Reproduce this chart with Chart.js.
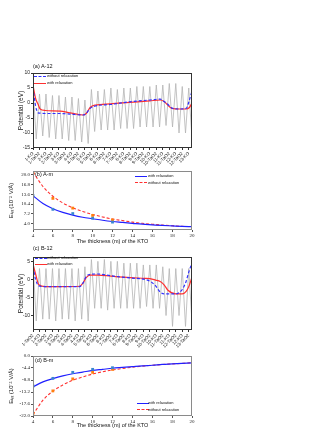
<!DOCTYPE html>
<html>
<head>
<meta charset="utf-8">
<script src="https://cdn.jsdelivr.net/npm/chart.js@4.4.0/dist/chart.umd.min.js"></script>
<style>
body { margin: 0; background: #fff; }
#wrap { position: relative; width: 332px; height: 430px; overflow: hidden; font-family: "Liberation Sans", Arial, sans-serif; }
canvas { position: absolute; left: 0; }
.lbl { position: absolute; white-space: nowrap; color: #111; }
.ttl { font-size: 5.5px; line-height: 6px; }
.leg { font-size: 4px; line-height: 4px; }
.ln { position: absolute; width: 12px; height: 0; }
</style>
</head>
<body>
<div id="wrap">
  <canvas id="ca" width="200" height="112" style="top:60px"></canvas>
  <canvas id="cb" width="200" height="80" style="top:166px"></canvas>
  <canvas id="cc" width="200" height="108" style="top:244px"></canvas>
  <canvas id="cd" width="200" height="80" style="top:350px"></canvas>

  <div class="lbl ttl" style="left:33px;top:63px">(a) A-12</div>
  <div class="ln" style="left:34px;top:76px;border-top:1.2px dashed #3030ff"></div>
  <div class="lbl leg" style="left:47px;top:74px">without relaxation</div>
  <div class="ln" style="left:34px;top:83px;border-top:1.2px solid #ff3030"></div>
  <div class="lbl leg" style="left:47px;top:81px">with relaxation</div>

  <div class="lbl ttl" style="left:35px;top:171px">(b) A-m</div>
  <div class="ln" style="left:135px;top:176px;border-top:1.2px solid #2020ff"></div>
  <div class="lbl leg" style="left:148px;top:174px">with relaxation</div>
  <div class="ln" style="left:135px;top:182px;border-top:1.2px dashed #ff3030"></div>
  <div class="lbl leg" style="left:148px;top:180.5px">without relaxation</div>

  <div class="lbl ttl" style="left:33px;top:245px">(c) B-12</div>
  <div class="ln" style="left:35px;top:258px;border-top:1.2px dashed #3030ff"></div>
  <div class="lbl leg" style="left:47px;top:256px">without relaxation</div>
  <div class="ln" style="left:35px;top:264px;border-top:1.2px solid #ff3030"></div>
  <div class="lbl leg" style="left:47px;top:262px">with relaxation</div>

  <div class="lbl ttl" style="left:35px;top:357px">(d) B-m</div>
  <div class="ln" style="left:137px;top:403px;border-top:1.2px solid #2020ff"></div>
  <div class="lbl leg" style="left:148px;top:401px">with relaxation</div>
  <div class="ln" style="left:137px;top:409px;border-top:1.2px dashed #ff3030"></div>
  <div class="lbl leg" style="left:148px;top:407.5px">without relaxation</div>
</div>
<script>
// layer names on the potential plots
var layersA = ["1-KO","1-TaO2","2-KO","2-TaO2","3-KO","3-TaO2","4-KO","4-TaO2","5-KO","5-TaO2",
  "6-KO","6-TaO2","7-KO","7-TaO2","8-KO","8-TaO2","9-KO","9-TaO2","10-KO","10-TaO2",
  "11-KO","11-TaO2","12-KO","12-TaO2","13-KO"];
var layersC = ["1-TaO2","1-KO","2-TaO2","2-KO","3-TaO2","3-KO","4-TaO2","4-KO","5-TaO2","5-KO",
  "6-TaO2","6-KO","7-TaO2","7-KO","8-TaO2","8-KO","9-TaO2","9-KO","10-TaO2","10-KO",
  "11-TaO2","11-KO","12-TaO2","12-KO","13-TaO2"];

// raw planar potential (peak, trough, peak, trough ...), half a layer apart
var grayA = [5,-12, 3,-11, 3,-11.5, 2.5,-12, 2.5,-12, 2,-12.5, 2,-12.5, 1.5,-13, 1,-13.5,
  4.5,-9.5, 4,-9, 4.5,-9, 5,-9, 4.5,-8.5, 5,-8.5, 5,-8.5, 5.5,-8, 5.5,-8, 5.5,-8, 6,-8,
  6,-7.5, 6.5,-8, 6.5,-10, 5.5,-10, 5,-12];
var grayC = [5,-11.5, 3,-11, 3,-11, 3,-11.5, 3,-11, 3,-11, 3,-11.5, 3,-11, 3.5,-11.5,
  5.5,-8, 5,-8, 5.5,-8.5, 5,-8, 5,-8, 4.5,-8, 4.5,-8, 4.5,-8, 4,-7.5, 4,-8, 4,-8,
  3.5,-10, 3,-13, 3,-10, 3,-13, 3,-12];

// macroscopic averages
var posA =     [0, 0.4, 0.8, 1.1, 1.9, 4.2, 5.7, 7.7, 8.2, 8.8, 9.6, 11.9, 14.9, 18.0, 19.6, 20.2, 20.8, 21.4, 22.6, 23.6, 24.1, 24.5];
var relaxA =   [6, 1.5, -0.5, -2, -2.5, -2.7, -3.3, -4, -3.5, -1.5, -0.7, -0.3, 0.2, 0.7, 1.0, 0.5, -0.8, -1.8, -2, -2, -1.5, 0];
var noRelaxA = [5, -1, -3.3, -3.4, -3.5, -3.5, -3.7, -4, -3.5, -1.8, -1, -0.5, 0.4, 1.0, 1.3, 0.5, -0.5, -1.7, -2, -1.8, 1, 4];

var posC =     [0, 0.4, 0.9, 1.9, 4.0, 7.2, 7.7, 8.2, 8.8, 10, 12, 15, 17.2, 18.0, 18.9, 19.6, 20.2, 20.8, 22.0, 23.0, 23.6, 24.0, 24.5];
var relaxC =   [4.2, 1.5, -1.5, -2, -2, -1.9, -1, 0.5, 1.2, 1.2, 0.9, 0.5, 0.3, 0.2, -0.2, -0.6, -1.5, -3, -4, -4, -3.3, -2, 0.6];
var noRelaxC = [3.5, 0, -1.8, -2, -2, -2, -1, 0.8, 1.4, 1.5, 1.0, 0.4, 0, -0.5, -1.8, -3.5, -4, -4, -4, -2.8, -0.5, 2, 4.6];

// internal field vs thickness
var thick = [4,5,6,7,8,9,10,11,12,13,14,15,16,17,18,19,20];
var fitRelaxB =   [13.2, 10.6, 8.9, 7.7, 6.8, 6.1, 5.6, 5.1, 4.7, 4.4, 4.1, 3.8, 3.6, 3.4, 3.25, 3.1, 3.0];
var fitNoRelaxB = [21.0, 16.2, 13.0, 10.8, 9.2, 8.0, 7.0, 6.2, 5.5, 5.0, 4.5, 4.1, 3.8, 3.5, 3.3, 3.1, 3.0];
var fitRelaxD =   [-11.3, -9.5, -8.3, -7.3, -6.5, -5.9, -5.3, -4.9, -4.5, -4.2, -3.9, -3.6, -3.4, -3.1, -2.9, -2.7, -2.5];
var fitNoRelaxD = [-21.5, -16.2, -12.9, -10.6, -8.9, -7.7, -6.6, -5.8, -5.1, -4.6, -4.1, -3.7, -3.4, -3.1, -2.9, -2.7, -2.5];

var calcThick = [4, 6, 8, 10, 12];
var ptRelaxB =   [13.2, 8.7, 7.3, 5.75, 4.5];
var ptNoRelaxB = [20.9, 12.3, 9.1, 6.7, 5.2];
var ptRelaxD =   [-11.0, -8.2, -6.0, -4.9, -4.3];
var ptNoRelaxD = [-21.0, -12.8, -8.4, -6.0, -4.9];

var ticksA = [-15, -10, -5, 0, 5, 10];
var ticksC = [-10, -5, 0, 5];
var ticksB = [4.0, 7.2, 10.4, 13.6, 16.8, 20.0];
var ticksD = [-22.0, -17.6, -13.2, -8.8, -4.4, 0.0];

Chart.defaults.font.family = '"Liberation Sans", Arial, sans-serif';
Chart.defaults.color = '#222';

var frame = {
  id: 'frame',
  afterDatasetsDraw: function(chart, args, opts) {
    var a = chart.chartArea, ctx = chart.ctx;
    ctx.save();
    ctx.strokeStyle = opts.color;
    ctx.lineWidth = 1;
    ctx.strokeRect(a.left + 0.5, a.top + 0.5, a.right - a.left - 1, a.bottom - a.top - 1);
    ctx.restore();
  }
};

function pts(xs, ys) {
  return ys.map(function(v, i) { return {x: xs[i], y: v}; });
}

function potentialChart(id, layers, gray, pos, relax, noRelax, yMin, yMax, yTicks, xHeight) {
  return new Chart(document.getElementById(id), {
    type: 'line',
    plugins: [frame],
    data: {
      datasets: [
        { data: pts(pos, noRelax), borderColor: '#3030ff', borderWidth: 1.2, borderDash: [3, 2],
          pointRadius: 0, cubicInterpolationMode: 'monotone', order: 0 },
        { data: pts(pos, relax), borderColor: '#ff3030', borderWidth: 1.2,
          pointRadius: 0, cubicInterpolationMode: 'monotone', order: 1 },
        { data: gray.map(function(v, i) { return {x: i * 0.5, y: v}; }), borderColor: '#b4b4b4',
          borderWidth: 0.8, pointRadius: 0, tension: 0, order: 2 }
      ]
    },
    options: {
      responsive: false, animation: false,
      layout: { padding: { top: 13, right: 8, left: 0, bottom: 0 } },
      plugins: { legend: { display: false }, tooltip: { enabled: false }, frame: { color: '#333' } },
      scales: {
        x: {
          type: 'linear', min: 0, max: 24.5,
          afterBuildTicks: function(s) { s.ticks = layers.map(function(l, i) { return {value: i}; }); },
          afterFit: function(s) { s.height = xHeight; },
          ticks: { autoSkip: false, minRotation: 45, maxRotation: 45, padding: 1,
                   font: { size: 4.5 }, callback: function(v) { return layers[v]; } },
          grid: { drawOnChartArea: false, tickLength: 2, color: '#333' },
          border: { display: false }
        },
        y: {
          min: yMin, max: yMax,
          afterBuildTicks: function(s) { s.ticks = yTicks.map(function(v) { return {value: v}; }); },
          afterFit: function(s) { s.width = 33; },
          ticks: { font: { size: 5 }, padding: 1 },
          grid: { drawOnChartArea: false, tickLength: 2, color: '#333' },
          border: { display: false },
          title: { display: true, text: 'Potential (eV)', font: { size: 6.5 }, color: '#111',
                   padding: { top: 17, bottom: 0 } }
        }
      }
    }
  });
}

function fieldChart(id, fitRelax, fitNoRelax, ptRelax, ptNoRelax, yMin, yMax, yTicks, padTop, xHeight, titlePad) {
  return new Chart(document.getElementById(id), {
    type: 'line',
    plugins: [frame],
    data: {
      datasets: [
        { data: pts(calcThick, ptRelax), showLine: false, pointStyle: 'rect', pointRadius: 2,
          backgroundColor: '#3a86d0', borderWidth: 0, order: 0 },
        { data: pts(calcThick, ptNoRelax), showLine: false, pointStyle: 'rect', pointRadius: 2,
          backgroundColor: '#ff7f0e', borderWidth: 0, order: 0 },
        { data: pts(thick, fitRelax), borderColor: '#2020ff', borderWidth: 1.2, pointRadius: 0,
          cubicInterpolationMode: 'monotone', order: 1 },
        { data: pts(thick, fitNoRelax), borderColor: '#ff3030', borderWidth: 1.1, borderDash: [3, 2],
          pointRadius: 0, cubicInterpolationMode: 'monotone', order: 1 }
      ]
    },
    options: {
      responsive: false, animation: false,
      layout: { padding: { top: padTop, right: 8, left: 0, bottom: 0 } },
      plugins: { legend: { display: false }, tooltip: { enabled: false }, frame: { color: '#8a8a8a' } },
      scales: {
        x: {
          type: 'linear', min: 4, max: 20,
          afterFit: function(s) { s.height = xHeight; },
          ticks: { stepSize: 2, padding: 1, font: { size: 5, family: '"Liberation Serif", serif' } },
          grid: { drawOnChartArea: false, tickLength: 2, color: '#555' },
          border: { display: false },
          title: { display: true, text: 'The thickness (m) of the KTO', font: { size: 5.5 }, color: '#111',
                   padding: { top: 0, bottom: titlePad } }
        },
        y: {
          min: yMin, max: yMax,
          afterBuildTicks: function(s) { s.ticks = yTicks.map(function(v) { return {value: v}; }); },
          afterFit: function(s) { s.width = 33; },
          ticks: { padding: 1, font: { size: 5, family: '"Liberation Serif", serif' },
                   callback: function(v) { return v.toFixed(1); } },
          grid: { drawOnChartArea: false, tickLength: 2, color: '#555' },
          border: { display: false },
          title: { display: true, text: 'E\u1D62\u2099\u209C (10\u207B\u00B2 V/\u00C5)', font: { size: 6 }, color: '#111',
                   padding: { top: 8, bottom: 0 } }
        }
      }
    }
  });
}

potentialChart('ca', layersA, grayA, posA, relaxA, noRelaxA, -15, 10, ticksA, 24);
fieldChart('cb', fitRelaxB, fitNoRelaxB, ptRelaxB, ptNoRelaxB, 1.9, 21.3, ticksB, 5, 16, 1.5);
potentialChart('cc', layersC, grayC, posC, relaxC, noRelaxC, -14, 6.2, ticksC, 22);
fieldChart('cd', fitRelaxD, fitNoRelaxD, ptRelaxD, ptNoRelaxD, -22, 0, ticksD, 6, 14, 1);
</script>
</body>
</html>
